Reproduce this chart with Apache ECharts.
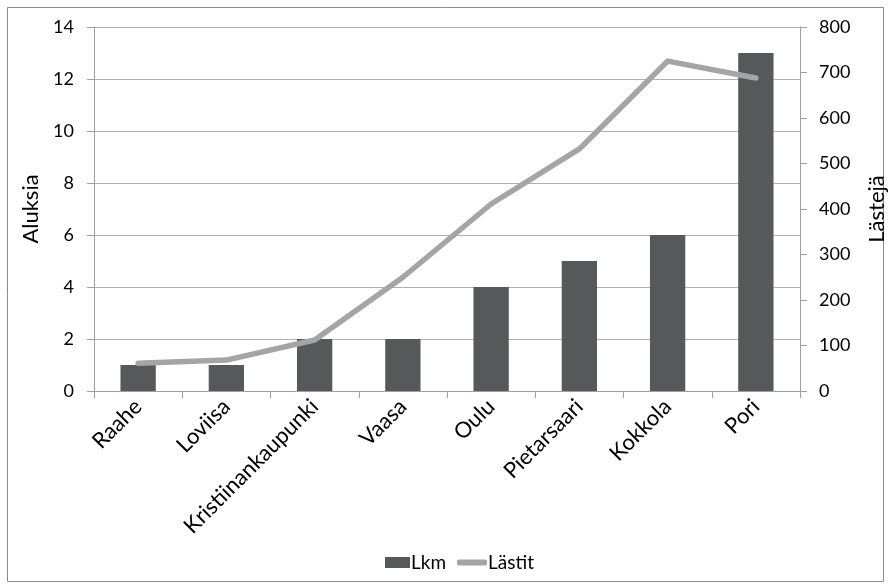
<!DOCTYPE html>
<html><head><meta charset="utf-8">
<script src="https://cdn.jsdelivr.net/npm/echarts@6/dist/echarts.min.js"></script>
<style>html,body{margin:0;padding:0;background:#fff}#c{width:890px;height:586px}</style>
</head><body><div id="c"></div>
<script>
const categories = ['Raahe','Loviisa','Kristiinankaupunki','Vaasa','Oulu','Pietarsaari','Kokkola','Pori'];
const lkm = [1,1,2,2,4,5,6,13];
const lastit = [61,68,112,250,411,532,725,688];
const leftTicks = {min:0,max:14,interval:2};
const rightTicks = {min:0,max:800,interval:100};

const FONT = 'Lato';
const chart = echarts.init(document.getElementById('c'));
chart.setOption({
  backgroundColor:'#fff',
  animation:false,
  textStyle:{fontFamily:FONT,color:'#000'},
  graphic:[{type:'rect',shape:{x:7.5,y:7.5,width:876,height:574},style:{fill:'none',stroke:'#8c8c8c',lineWidth:1}}],
  grid:{left:94,right:90,top:27,bottom:195,containLabel:false,outerBoundsMode:'none'},
  legend:[
    {left:380,bottom:9,itemWidth:25,itemHeight:11,
      textStyle:{fontFamily:FONT,fontSize:19,color:'#000',padding:[0,0,0,-4]},
      data:[{name:'Lkm',icon:'rect'}]},
    {left:452,bottom:9,itemWidth:30,itemHeight:6,
      textStyle:{fontFamily:FONT,fontSize:19,color:'#000',padding:[0,0,0,-4]},
      data:[{name:'Lästit',icon:'roundRect',itemStyle:{color:'#a5a5a5'}}]}
  ],
  xAxis:{type:'category',data:categories,
    axisLine:{lineStyle:{color:'#a0a0a0',width:1}},
    axisTick:{show:true,length:7,lineStyle:{color:'#a0a0a0'}},
    axisLabel:{rotate:45,fontSize:22,color:'#000',fontFamily:FONT,margin:12,interval:0}},
  yAxis:[
    {type:'value',...leftTicks,name:'Aluksia',nameLocation:'middle',nameRotate:90,nameGap:50,
      nameTextStyle:{fontSize:22,color:'#000',fontFamily:FONT},
      axisLine:{show:true,lineStyle:{color:'#a0a0a0'}},
      axisTick:{show:true,length:7,inside:false,lineStyle:{color:'#a0a0a0'}},
      axisLabel:{fontSize:18,color:'#000',margin:20,fontFamily:FONT},
      splitLine:{lineStyle:{color:'#b0b0b0',width:1}}},
    {type:'value',...rightTicks,name:'Lästejä',nameLocation:'middle',nameRotate:90,nameGap:66,position:'right',
      nameTextStyle:{fontSize:22,color:'#000',fontFamily:FONT},
      axisLine:{show:true,lineStyle:{color:'#a0a0a0'}},
      axisTick:{show:true,length:7,lineStyle:{color:'#a0a0a0'}},
      axisLabel:{fontSize:18,color:'#000',margin:19,fontFamily:FONT},
      splitLine:{show:false}}
  ],
  series:[
    {name:'Lkm',type:'bar',data:lkm,yAxisIndex:0,barWidth:'40%',itemStyle:{color:'#55595a'}},
    {name:'Lästit',type:'line',data:lastit,yAxisIndex:1,symbol:'none',
      lineStyle:{color:'#a5a5a5',width:5.5,cap:'round',join:'round'},itemStyle:{color:'#a5a5a5'}}
  ]
});
</script></body></html>
